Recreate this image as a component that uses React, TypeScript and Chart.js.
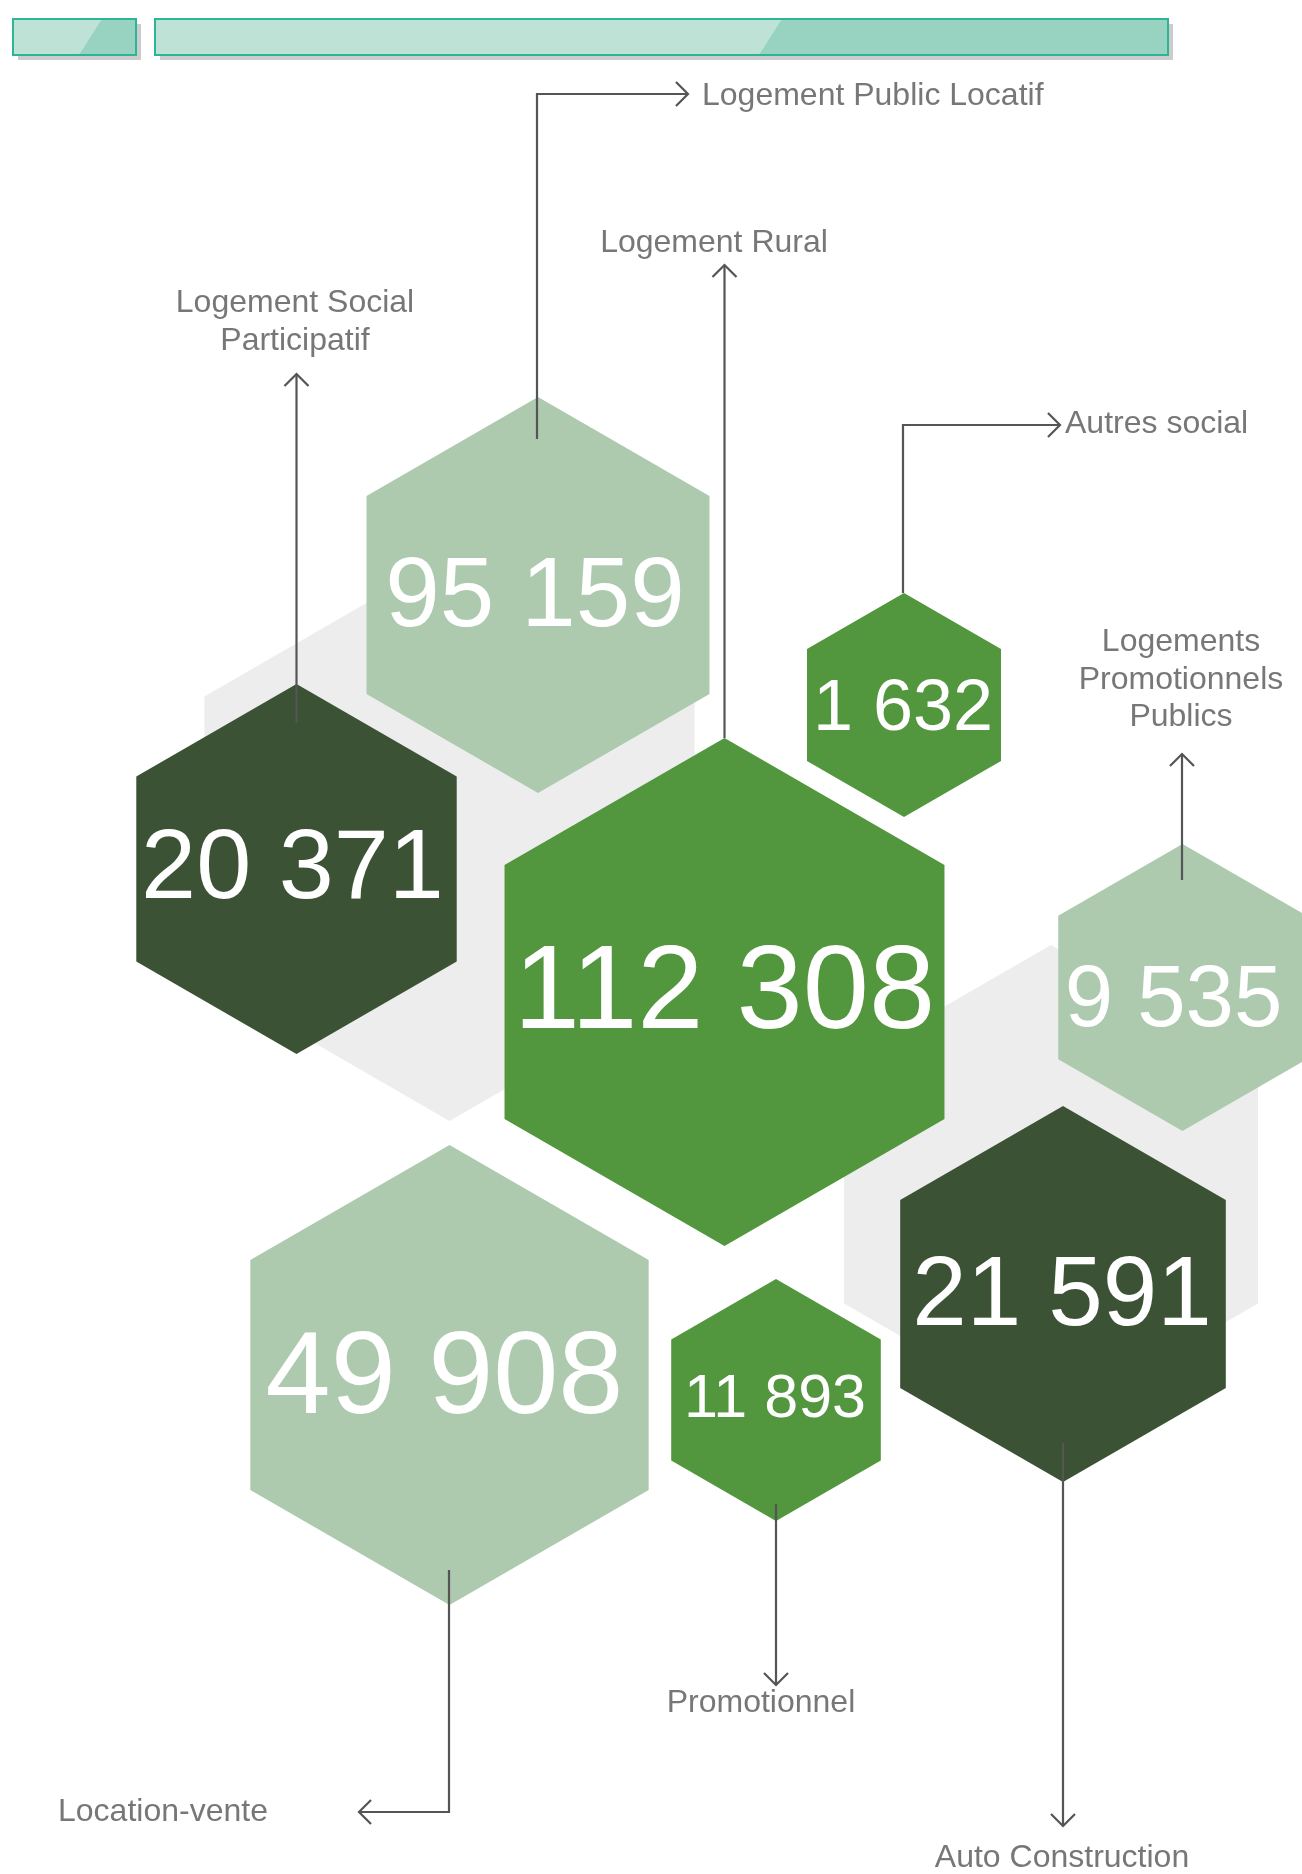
import React, { useEffect, useRef } from 'react';
import { Chart, registerables } from 'chart.js';

Chart.register(...registerables);

// ---- Data ----
const categories = [
  'Logement Public Locatif',
  'Logement Social Participatif',
  'Logement Rural',
  'Autres social',
  'Logements Promotionnels Publics',
  'Auto Construction',
  'Location-vente',
  'Promotionnel',
];
const values = [95159, 20371, 112308, 1632, 9535, 21591, 49908, 11893];
const labelLines = [
  ['Logement Public Locatif'],
  ['Logement Social', 'Participatif'],
  ['Logement Rural'],
  ['Autres social'],
  ['Logements', 'Promotionnels', 'Publics'],
  ['Auto Construction'],
  ['Location-vente'],
  ['Promotionnel'],
];

// ---- Layout (positions in page units, converted through the chart scales) ----
const W = 1302;
const H = 1874;
const LIGHT = '#adcaae';
const MID = '#52963e';
const DARK = '#3b5234';
const hexX = [538, 296.5, 724.5, 904, 1182.5, 1063, 449.5, 776];
const hexY = [595, 869, 992, 705, 987.5, 1294, 1375, 1400];
const hexR = [198, 185, 254, 112, 143.5, 188, 230, 121];
const hexColor = [LIGHT, DARK, MID, MID, LIGHT, DARK, LIGHT, MID];
const valueFont = [98, 99, 119, 72, 87, 98, 117, 61];
const valueDx = [-3, -4, 0, -1, -9, -1, -5, -1];
const valueDy = [-4, -6, -7, -1, 7, -4, -4, -5];

const bgHexX = [449.5, 1051];
const bgHexY = [838, 1184];
const bgHexR = [283, 239];

const labelX = [702, 295, 714, 1065, 1181, 1062, 58, 761];
const labelY = [105, 312, 252, 433, 651, 1867, 1821, 1712];
const labelAlign: CanvasTextAlign[] = ['left', 'center', 'center', 'left', 'center', 'center', 'left', 'center'];
const lineGap = 37.5;
const arrowPaths = [
  [[537, 439], [537, 94], [688, 94]],
  [[296.5, 723], [296.5, 374]],
  [[724.5, 738], [724.5, 265]],
  [[903, 593], [903, 425], [1060, 425]],
  [[1182, 880], [1182, 754]],
  [[1063, 1443], [1063, 1826]],
  [[449, 1570], [449, 1812], [359, 1812]],
  [[776, 1504], [776, 1685]],
];

const FONT = '"Liberation Sans", Arial, sans-serif';

function fmt(v: number) {
  return String(v).replace(/\B(?=(\d{3})+(?!\d))/g, ' ');
}

function hexPath(ctx: CanvasRenderingContext2D, x: number, y: number, r: number) {
  ctx.beginPath();
  for (let k = 0; k < 6; k++) {
    const a = (-90 + 60 * k) * Math.PI / 180;
    const px = x + r * Math.cos(a);
    const py = y + r * Math.sin(a);
    if (k === 0) ctx.moveTo(px, py); else ctx.lineTo(px, py);
  }
  ctx.closePath();
}

const hexPlugin = {
  id: 'hexPlugin',
  beforeDatasetsDraw(chart: any) {
    const ctx: CanvasRenderingContext2D = chart.ctx;
    const xs = chart.scales.x;
    const ys = chart.scales.y;
    const px = (v: number) => xs.getPixelForValue(v);
    const py = (v: number) => ys.getPixelForValue(v);
    const pr = (r: number) => Math.abs(px(r) - px(0));
    ctx.save();
    ctx.fillStyle = '#ffffff';
    ctx.fillRect(0, 0, chart.width, chart.height);

    // header bars
    const bars = [
      { x0: 13, x1: 136, split0: 102, split1: 79 },
      { x0: 155, x1: 1168, split0: 782, split1: 759 },
    ];
    const by0 = 19, by1 = 55;
    bars.forEach((b) => {
      ctx.fillStyle = '#cccccc';
      ctx.fillRect(px(b.x0) + 5, py(by0) + 5, pr(b.x1 - b.x0), Math.abs(py(by1) - py(by0)));
      ctx.fillStyle = '#bee3d6';
      ctx.fillRect(px(b.x0), py(by0), pr(b.x1 - b.x0), Math.abs(py(by1) - py(by0)));
      ctx.fillStyle = '#97d3c0';
      ctx.beginPath();
      ctx.moveTo(px(b.split0), py(by0));
      ctx.lineTo(px(b.x1), py(by0));
      ctx.lineTo(px(b.x1), py(by1));
      ctx.lineTo(px(b.split1), py(by1));
      ctx.closePath();
      ctx.fill();
      ctx.strokeStyle = '#2cb596';
      ctx.lineWidth = 2;
      ctx.strokeRect(px(b.x0), py(by0), pr(b.x1 - b.x0), Math.abs(py(by1) - py(by0)));
    });

    // background hexagons
    ctx.fillStyle = '#ededed';
    bgHexX.forEach((x, i) => {
      hexPath(ctx, px(x), py(bgHexY[i]), pr(bgHexR[i]));
      ctx.fill();
    });

    // data hexagons
    const meta = chart.getDatasetMeta(0);
    meta.data.forEach((el: any, i: number) => {
      ctx.fillStyle = hexColor[i];
      hexPath(ctx, el.x, el.y, pr(hexR[i]));
      ctx.fill();
    });

    // values
    ctx.fillStyle = '#ffffff';
    ctx.textAlign = 'center';
    ctx.textBaseline = 'alphabetic';
    meta.data.forEach((el: any, i: number) => {
      const fs = valueFont[i];
      ctx.font = `${fs}px ${FONT}`;
      ctx.fillText(fmt(values[i]), el.x + valueDx[i], el.y + valueDy[i] + fs * 0.716 / 2);
    });

    // arrows
    ctx.strokeStyle = '#555555';
    ctx.lineWidth = 2.2;
    ctx.lineCap = 'butt';
    ctx.lineJoin = 'miter';
    arrowPaths.forEach((path) => {
      ctx.beginPath();
      path.forEach((p, k) => {
        if (k === 0) ctx.moveTo(px(p[0]), py(p[1]));
        else ctx.lineTo(px(p[0]), py(p[1]));
      });
      ctx.stroke();
      const a = path[path.length - 2];
      const b = path[path.length - 1];
      const tx = px(b[0]), ty = py(b[1]);
      const ang = Math.atan2(ty - py(a[1]), tx - px(a[0]));
      const L = 17;
      ctx.beginPath();
      ctx.moveTo(tx + L * Math.cos(ang + Math.PI * 0.75), ty + L * Math.sin(ang + Math.PI * 0.75));
      ctx.lineTo(tx, ty);
      ctx.lineTo(tx + L * Math.cos(ang - Math.PI * 0.75), ty + L * Math.sin(ang - Math.PI * 0.75));
      ctx.stroke();
    });

    // labels
    ctx.fillStyle = '#777777';
    ctx.font = `32px ${FONT}`;
    labelLines.forEach((lines, i) => {
      ctx.textAlign = labelAlign[i];
      lines.forEach((t, k) => {
        ctx.fillText(t, px(labelX[i]), py(labelY[i] + k * lineGap));
      });
    });
    ctx.restore();
  },
};

export default function App() {
  const ref = useRef<HTMLCanvasElement>(null);
  useEffect(() => {
    document.body.style.margin = '0';
    const canvas = ref.current;
    if (!canvas) return;
    const chart = new Chart(canvas, {
      type: 'scatter',
      data: {
        labels: categories,
        datasets: [
          {
            label: 'Logements',
            data: values.map((v, i) => ({ x: hexX[i], y: hexY[i], v })),
            pointRadius: 0,
            pointHoverRadius: 0,
            showLine: false,
          } as any,
        ],
      },
      options: {
        responsive: false,
        animation: false,
        layout: { padding: 0 },
        events: [],
        scales: {
          x: { type: 'linear', min: 0, max: W, display: false },
          y: { type: 'linear', min: 0, max: H, reverse: true, display: false },
        },
        plugins: { legend: { display: false }, tooltip: { enabled: false } },
      },
      plugins: [hexPlugin],
    });
    return () => chart.destroy();
  }, []);
  return (
    <div style={{ width: W, height: H, overflow: 'hidden' }}>
      <canvas ref={ref} width={W} height={H} style={{ display: 'block', width: W, height: H }} />
    </div>
  );
}
